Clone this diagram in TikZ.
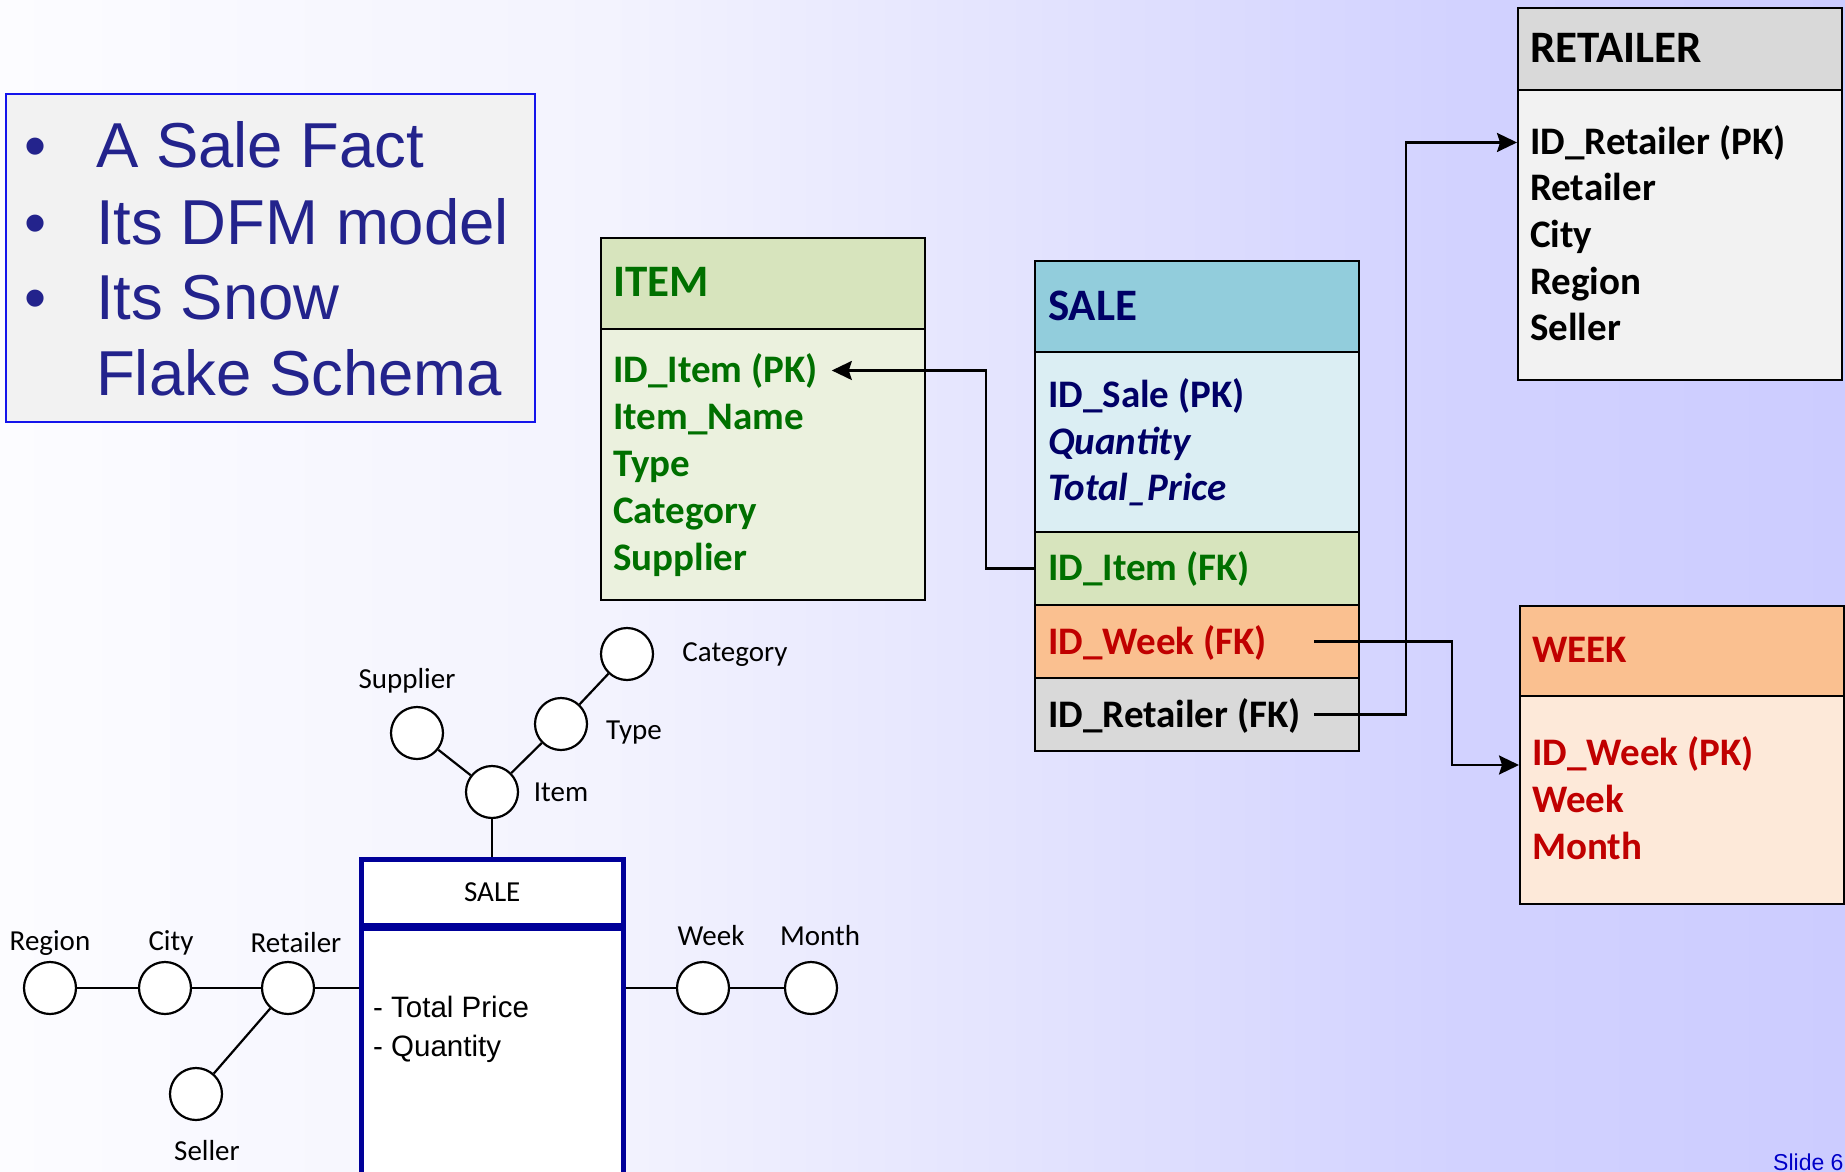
\documentclass[tikz,border=0pt]{standalone}
\usepackage{fontspec}
\setmainfont{Carlito}
\newfontfamily\arialfont{Liberation Sans}
\usetikzlibrary{arrows.meta,positioning}

% Slide colours
\definecolor{bgA}{RGB}{252,252,255}
\definecolor{bgB}{RGB}{243,243,254}
\definecolor{bgC}{RGB}{224,224,254}
\definecolor{bgD}{RGB}{210,210,255}
\definecolor{bgE}{RGB}{204,204,255}
% the path box is mapped onto 25bp--75bp of the shading
\pgfdeclarehorizontalshading{slidebg}{100bp}{color(0bp)=(bgA); color(25bp)=(bgA); color(41.5bp)=(bgB); color(55bp)=(bgC); color(64.5bp)=(bgD); color(75bp)=(bgE); color(100bp)=(bgE)}
\definecolor{noteText}{RGB}{35,35,140}
\definecolor{noteFrame}{RGB}{20,20,235}
\definecolor{noteFill}{RGB}{242,242,242}
% Table colours
\definecolor{itemHead}{RGB}{215,228,189}
\definecolor{itemBody}{RGB}{235,241,222}
\definecolor{itemText}{RGB}{0,112,0}
\definecolor{saleHead}{RGB}{146,205,220}
\definecolor{saleBody}{RGB}{219,238,243}
\definecolor{saleText}{RGB}{0,0,102}
\definecolor{weekHead}{RGB}{250,192,144}
\definecolor{weekBody}{RGB}{253,233,217}
\definecolor{weekText}{RGB}{192,0,0}
\definecolor{retHead}{RGB}{217,217,217}
\definecolor{retBody}{RGB}{242,242,242}
\definecolor{factBlue}{RGB}{0,0,153}
\definecolor{slideBlue}{RGB}{0,0,200}

\tikzset{
    cell/.style={rectangle, draw=black, line width=2.2pt, inner sep=0pt, anchor=north west, minimum width=324pt},
    tabtitle/.style={anchor=base west, inner sep=0pt, font=\fontsize{45}{54}\selectfont\bfseries},
    field/.style={anchor=base west, inner sep=0pt, font=\fontsize{39}{47}\selectfont\bfseries},
    link/.style={line width=2.4pt, -{Stealth[length=20pt,width=19pt,inset=3pt]}},
    attr/.style={circle, draw=black, line width=2.2pt, fill=white, minimum size=52pt, inner sep=0pt},
    attrlabel/.style={inner sep=0pt, font=\fontsize{29}{35}\selectfont},
    stem/.style={line width=2.2pt},
    factbox/.style={rectangle, draw=factBlue, line width=4.5pt, fill=white, inner sep=0pt, anchor=north west, minimum width=262pt},
}

\begin{document}
\begin{tikzpicture}[x=1pt, y=-1pt]
    \useasboundingbox (0,0) rectangle (1845,1172);
    \clip (0,0) rectangle (1845,1172);

    % Background
    \shade[shading=slidebg] (0,0) rectangle (1845,1172);

    % ==========================================
    % Bullet list in the upper left corner
    % ==========================================
    \node[draw=noteFrame, line width=2pt, fill=noteFill, inner sep=0pt, anchor=north west,
          minimum width=529pt, minimum height=328pt] (note) at (5,93) {};
    \foreach \txt/\yy [count=\i] in {A Sale Fact/167, Its DFM model/244, Its Snow/319} {
        \node[anchor=base west, inner sep=0pt, text=noteText, font=\arialfont\fontsize{63}{76}\selectfont] (dot\i) at (24,\yy) {•};
        \node[anchor=base west, inner sep=0pt, text=noteText, font=\arialfont\fontsize{63.5}{76}\selectfont] (line\i) at (96,\yy) {\txt};
    }
    \node[anchor=base west, inner sep=0pt, text=noteText, font=\arialfont\fontsize{63.5}{76}\selectfont] (line4) at (96,395) {Flake Schema};

    % ==========================================
    % Snowflake schema: ITEM table
    % ==========================================
    \node[cell, fill=itemHead, minimum height=91pt] (itemHd) at (600,237) {};
    \node[cell, fill=itemBody, minimum height=271pt] (itemBd) at (600,328) {};
    \node[tabtitle, text=itemText] (itemTitle) at (613,296) {ITEM};
    \foreach \txt [count=\i] in {ID\_Item (PK), Item\_Name, Type, Category, Supplier}
        \node[field, text=itemText] (item\i) at (613,335+47*\i) {\txt};

    % SALE fact table with its three foreign keys
    \node[cell, fill=saleHead, minimum height=91pt] (saleHd) at (1034,260) {};
    \node[cell, fill=saleBody, minimum height=180pt] (saleBd) at (1034,351) {};
    \node[cell, fill=itemHead, minimum height=73pt] (saleItemFK) at (1034,531) {};
    \node[cell, fill=weekHead, minimum height=73pt] (saleWeekFK) at (1034,604) {};
    \node[cell, fill=retHead, minimum height=73pt] (saleRetFK) at (1034,677) {};
    \node[tabtitle, text=saleText] (saleTitle) at (1048,320) {SALE};
    \node[field, text=saleText] (sale1) at (1048,407) {ID\_Sale (PK)};
    \node[field, text=saleText] (sale2) at (1048,454) {\itshape Quantity};
    \node[field, text=saleText] (sale3) at (1048,500) {\itshape Total\_Price};
    \node[field, text=itemText] (fk1) at (1048,580) {ID\_Item (FK)};
    \node[field, text=weekText] (fk2) at (1048,654) {ID\_Week (FK)};
    \node[field, text=black] (fk3) at (1048,727) {ID\_Retailer (FK)};

    % RETAILER table
    \node[cell, fill=retHead, minimum height=82pt] (retHd) at (1517,7) {};
    \node[cell, fill=retBody, minimum height=290pt] (retBd) at (1517,89) {};
    \node[tabtitle, text=black] (retTitle) at (1530,63) {RETAILER};
    \foreach \txt [count=\i] in {ID\_Retailer (PK), Retailer, City, Region, Seller}
        \node[field, text=black] (ret\i) at (1530,107.3+46.7*\i) {\txt};

    % WEEK table
    \node[cell, fill=weekHead, minimum height=90pt] (weekHd) at (1519,605) {};
    \node[cell, fill=weekBody, minimum height=208pt] (weekBd) at (1519,695) {};
    \node[field, text=weekText] (weekTitle) at (1532,662) {WEEK};
    \foreach \txt [count=\i] in {ID\_Week (PK), Week, Month}
        \node[field, text=weekText] (week\i) at (1532,718+47*\i) {\txt};

    % Foreign key links
    \draw[link] (saleItemFK.west) -- ++(-48,0) |- ([xshift=14pt]item1.east);
    \draw[link] ([xshift=-46pt]saleWeekFK.east) -- ++(138,0) |- (weekBd.west |- week1.base);
    \draw[link] ([xshift=-46pt]saleRetFK.east) -- ++(92,0) |- (retBd.west |- ret1);

    % ==========================================
    % DFM: fact SALE with its hierarchies
    % ==========================================
    \node[factbox, minimum height=66pt, font=\fontsize{29}{35}\selectfont] (factHd) at (359,857) {SALE};
    \node[factbox, minimum height=290pt] (factBd) at (359,926) {};
    \node[anchor=west, inner sep=0pt, font=\arialfont\fontsize{29.5}{35}\selectfont] (meas1) at (373,1007) {- Total Price};
    \node[anchor=west, inner sep=0pt, font=\arialfont\fontsize{29.5}{35}\selectfont] (meas2) at (373,1049) {- Quantity};

    % Dimension attributes
    \node[attr] (item) at (492,792) {};
    \node[attr] (supplier) at (417,733) {};
    \node[attr] (type) at (561,724) {};
    \node[attr] (category) at (627,654) {};
    \node[attr] (retailer) at (288,988) {};
    \node[attr] (city) at (165,988) {};
    \node[attr] (region) at (50,988) {};
    \node[attr] (seller) at (196,1094) {};
    \node[attr] (week) at (703,988) {};
    \node[attr] (month) at (811,988) {};

    \node[attrlabel] (itemLbl) at (561,792) {Item};
    \node[attrlabel] (supplierLbl) at (407,681) {Supplier};
    \node[attrlabel] (typeLbl) at (634,733) {Type};
    \node[attrlabel] (categoryLbl) at (735,655) {Category};
    \node[attrlabel] (retailerLbl) at (296,943) {Retailer};
    \node[attrlabel] (cityLbl) at (171,943) {City};
    \node[attrlabel] (regionLbl) at (50,943) {Region};
    \node[attrlabel] (sellerLbl) at (207,1151) {Seller};
    \node[attrlabel] (weekLbl) at (711,936) {Week};
    \node[attrlabel] (monthLbl) at (820,936) {Month};

    % Hierarchy arcs
    \draw[stem] (item.south) -- (item.south |- factHd.north);
    \draw[stem] (item) -- (supplier);
    \draw[stem] (item) -- (type);
    \draw[stem] (type) -- (category);
    \draw[stem] (region) -- (city);
    \draw[stem] (city) -- (retailer);
    \draw[stem] (retailer) -- (retailer -| factBd.west);
    \draw[stem] (retailer) -- (seller);
    \draw[stem] (week -| factBd.east) -- (week);
    \draw[stem] (week) -- (month);

    % Slide number
    \node[anchor=base west, inner sep=0pt, text=slideBlue, font=\arialfont\fontsize{23}{28}\selectfont] (slideNo) at (1773,1170) {Slide 6};
\end{tikzpicture}
\end{document}
